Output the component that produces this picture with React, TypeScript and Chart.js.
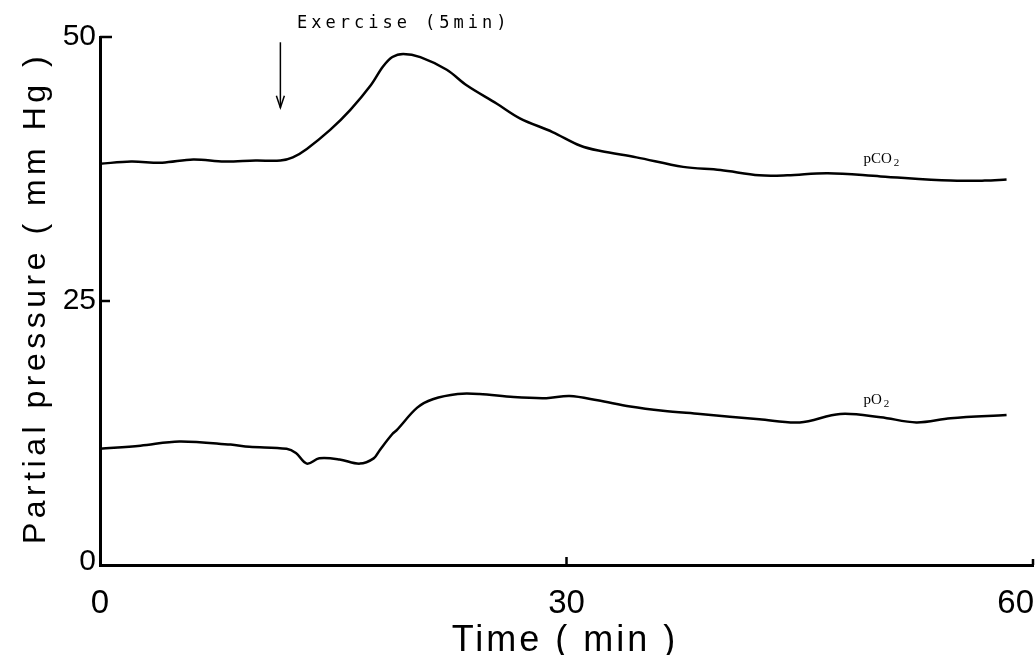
import React, { useEffect, useRef } from "react";
import { Chart, registerables } from "chart.js";

Chart.register(...registerables);

// ---- data ----
const xTicks = [0, 30, 60];
const yTicks = [0, 25, 50];

const pco2Time = [0, 2, 4, 6, 8, 10, 11.6, 12.4, 13.3, 14.8, 16.1, 17.4, 18.2, 18.8, 19.5, 20.6, 22.3, 23.6, 25.5, 27.0, 29.1, 30.9, 32.2, 34.5, 37.5, 39.9, 42.4, 44.2, 46.8, 50.2, 54.7, 56.9, 58.3];
const pco2Values = [38.0, 38.2, 38.1, 38.4, 38.2, 38.3, 38.3, 38.6, 39.4, 41.2, 43.1, 45.4, 47.2, 48.1, 48.4, 48.1, 46.9, 45.4, 43.7, 42.3, 41.0, 39.7, 39.2, 38.6, 37.7, 37.4, 36.9, 36.9, 37.1, 36.8, 36.4, 36.4, 36.5];

const po2Time = [0, 2.6, 5.1, 8.4, 9.6, 12.0, 12.6, 13.3, 14.1, 15.4, 16.7, 17.6, 18.0, 18.8, 19.1, 20.4, 21.4, 23.0, 24.4, 26.6, 28.7, 30.2, 32.0, 34.1, 36.2, 38.6, 42.4, 45.0, 47.6, 50.2, 52.5, 54.7, 58.3];
const po2Values = [11.0, 11.3, 11.7, 11.4, 11.2, 11.0, 10.6, 9.6, 10.1, 10.0, 9.6, 10.1, 10.9, 12.4, 12.8, 14.9, 15.7, 16.2, 16.2, 15.9, 15.8, 16.0, 15.6, 15.0, 14.6, 14.3, 13.8, 13.5, 14.3, 14.0, 13.5, 13.9, 14.2];

const xTitle = "Time ( min )";
const yTitle = "Partial pressure ( mm Hg )";
const exerciseLabel = "Exercise (5min)";
const exerciseTime = 11.6;
const exerciseArrowTop = 49.5;
const exerciseArrowBottom = 43.3;
const seriesLabels = [
  { main: "pCO", sub: "2", t: 49.1, v: 38.1 },
  { main: "pO", sub: "2", t: 49.1, v: 15.2 },
];

const drawPlugin = {
  id: "customDraw",
  afterDraw(chart: any) {
    const { ctx, scales } = chart;
    const x = scales.x;
    const y = scales.y;
    ctx.save();
    ctx.fillStyle = "#000";
    ctx.strokeStyle = "#000";

    // inward tick marks
    ctx.lineWidth = 2.5;
    yTicks.forEach((v) => {
      if (v === 0) return;
      const py = y.getPixelForValue(v);
      ctx.beginPath();
      ctx.moveTo(x.left, py);
      ctx.lineTo(x.left + (v === 50 ? 12 : 10), py);
      ctx.stroke();
    });
    xTicks.forEach((v) => {
      if (v === 0) return;
      const px = x.getPixelForValue(v);
      ctx.beginPath();
      ctx.moveTo(px, y.bottom);
      ctx.lineTo(px, y.bottom - (v === 60 ? 6 : 8));
      ctx.stroke();
    });

    // tick labels
    ctx.font = "30px 'Liberation Sans'";
    ctx.textAlign = "right";
    ctx.textBaseline = "middle";
    yTicks.forEach((v) => {
      ctx.fillText(String(v), x.left - 4, y.getPixelForValue(v) - (v === 0 ? 3 : 0));
    });
    ctx.font = "33px 'Liberation Sans'";
    ctx.textBaseline = "top";
    xTicks.forEach((v, i) => {
      const px = x.getPixelForValue(v);
      if (i === xTicks.length - 1) {
        ctx.textAlign = "right";
        ctx.fillText(String(v), px + 1, y.bottom + 22);
      } else {
        ctx.textAlign = "center";
        ctx.fillText(String(v), px, y.bottom + 22);
      }
    });

    // axis titles
    ctx.textBaseline = "alphabetic";
    ctx.textAlign = "center";
    ctx.font = "36px 'Liberation Sans'";
    (ctx as any).letterSpacing = "3px";
    ctx.fillText(xTitle, 565, 651);
    ctx.save();
    ctx.translate(45, 298);
    ctx.rotate(-Math.PI / 2);
    ctx.font = "32px 'Liberation Sans'";
    (ctx as any).letterSpacing = "4.5px";
    ctx.fillText(yTitle, 0, 0);
    ctx.restore();

    // exercise annotation
    (ctx as any).letterSpacing = "4px";
    ctx.font = "17px 'DejaVu Sans Mono'";
    ctx.textAlign = "left";
    ctx.fillText(exerciseLabel, 297, 28);
    (ctx as any).letterSpacing = "0px";
    const ax = x.getPixelForValue(exerciseTime);
    const ay1 = y.getPixelForValue(exerciseArrowTop);
    const ay2 = y.getPixelForValue(exerciseArrowBottom);
    ctx.lineWidth = 1.5;
    ctx.beginPath();
    ctx.moveTo(ax, ay1);
    ctx.lineTo(ax, ay2);
    ctx.stroke();
    ctx.beginPath();
    ctx.moveTo(ax - 4, ay2 - 12);
    ctx.lineTo(ax, ay2);
    ctx.lineTo(ax + 4, ay2 - 12);
    ctx.stroke();

    // series labels
    seriesLabels.forEach((s) => {
      const px = x.getPixelForValue(s.t);
      const py = y.getPixelForValue(s.v);
      ctx.font = "15px 'Liberation Serif'";
      ctx.textAlign = "left";
      ctx.fillText(s.main, px, py);
      const w = ctx.measureText(s.main).width;
      ctx.font = "11px 'Liberation Serif'";
      ctx.fillText(s.sub, px + w + 2, py + 3);
    });

    ctx.restore();
  },
};

export default function App() {
  const ref = useRef<HTMLCanvasElement | null>(null);
  useEffect(() => {
    if (!ref.current) return;
    const chart = new Chart(ref.current, {
      type: "line",
      data: {
        datasets: [
          {
            label: "pCO2",
            data: pco2Time.map((t, i) => ({ x: t, y: pco2Values[i] })),
            borderColor: "#000",
            borderWidth: 2.5,
            pointRadius: 0,
            tension: 0.35,
            fill: false,
          },
          {
            label: "pO2",
            data: po2Time.map((t, i) => ({ x: t, y: po2Values[i] })),
            borderColor: "#000",
            borderWidth: 2.5,
            pointRadius: 0,
            tension: 0.35,
            fill: false,
          },
        ],
      },
      options: {
        responsive: false,
        animation: false,
        plugins: { legend: { display: false }, tooltip: { enabled: false } },
        layout: { padding: { left: 100, right: 3, top: 37, bottom: 90 } },
        scales: {
          x: {
            type: "linear",
            min: 0,
            max: 60,
            grid: { display: false, drawTicks: false, tickLength: 0 },
            ticks: { display: false },
            border: { display: true, color: "#000", width: 3 },
          },
          y: {
            type: "linear",
            min: 0,
            max: 50,
            grid: { display: false, drawTicks: false, tickLength: 0 },
            ticks: { display: false },
            border: { display: true, color: "#000", width: 3 },
          },
        },
      },
      plugins: [drawPlugin],
    } as any);
    return () => chart.destroy();
  }, []);
  return (
    <div style={{ position: "fixed", left: 0, top: 0, width: 1036, height: 655, background: "#fff" }}>
      <canvas ref={ref} width={1036} height={655} style={{ display: "block" }} />
    </div>
  );
}
